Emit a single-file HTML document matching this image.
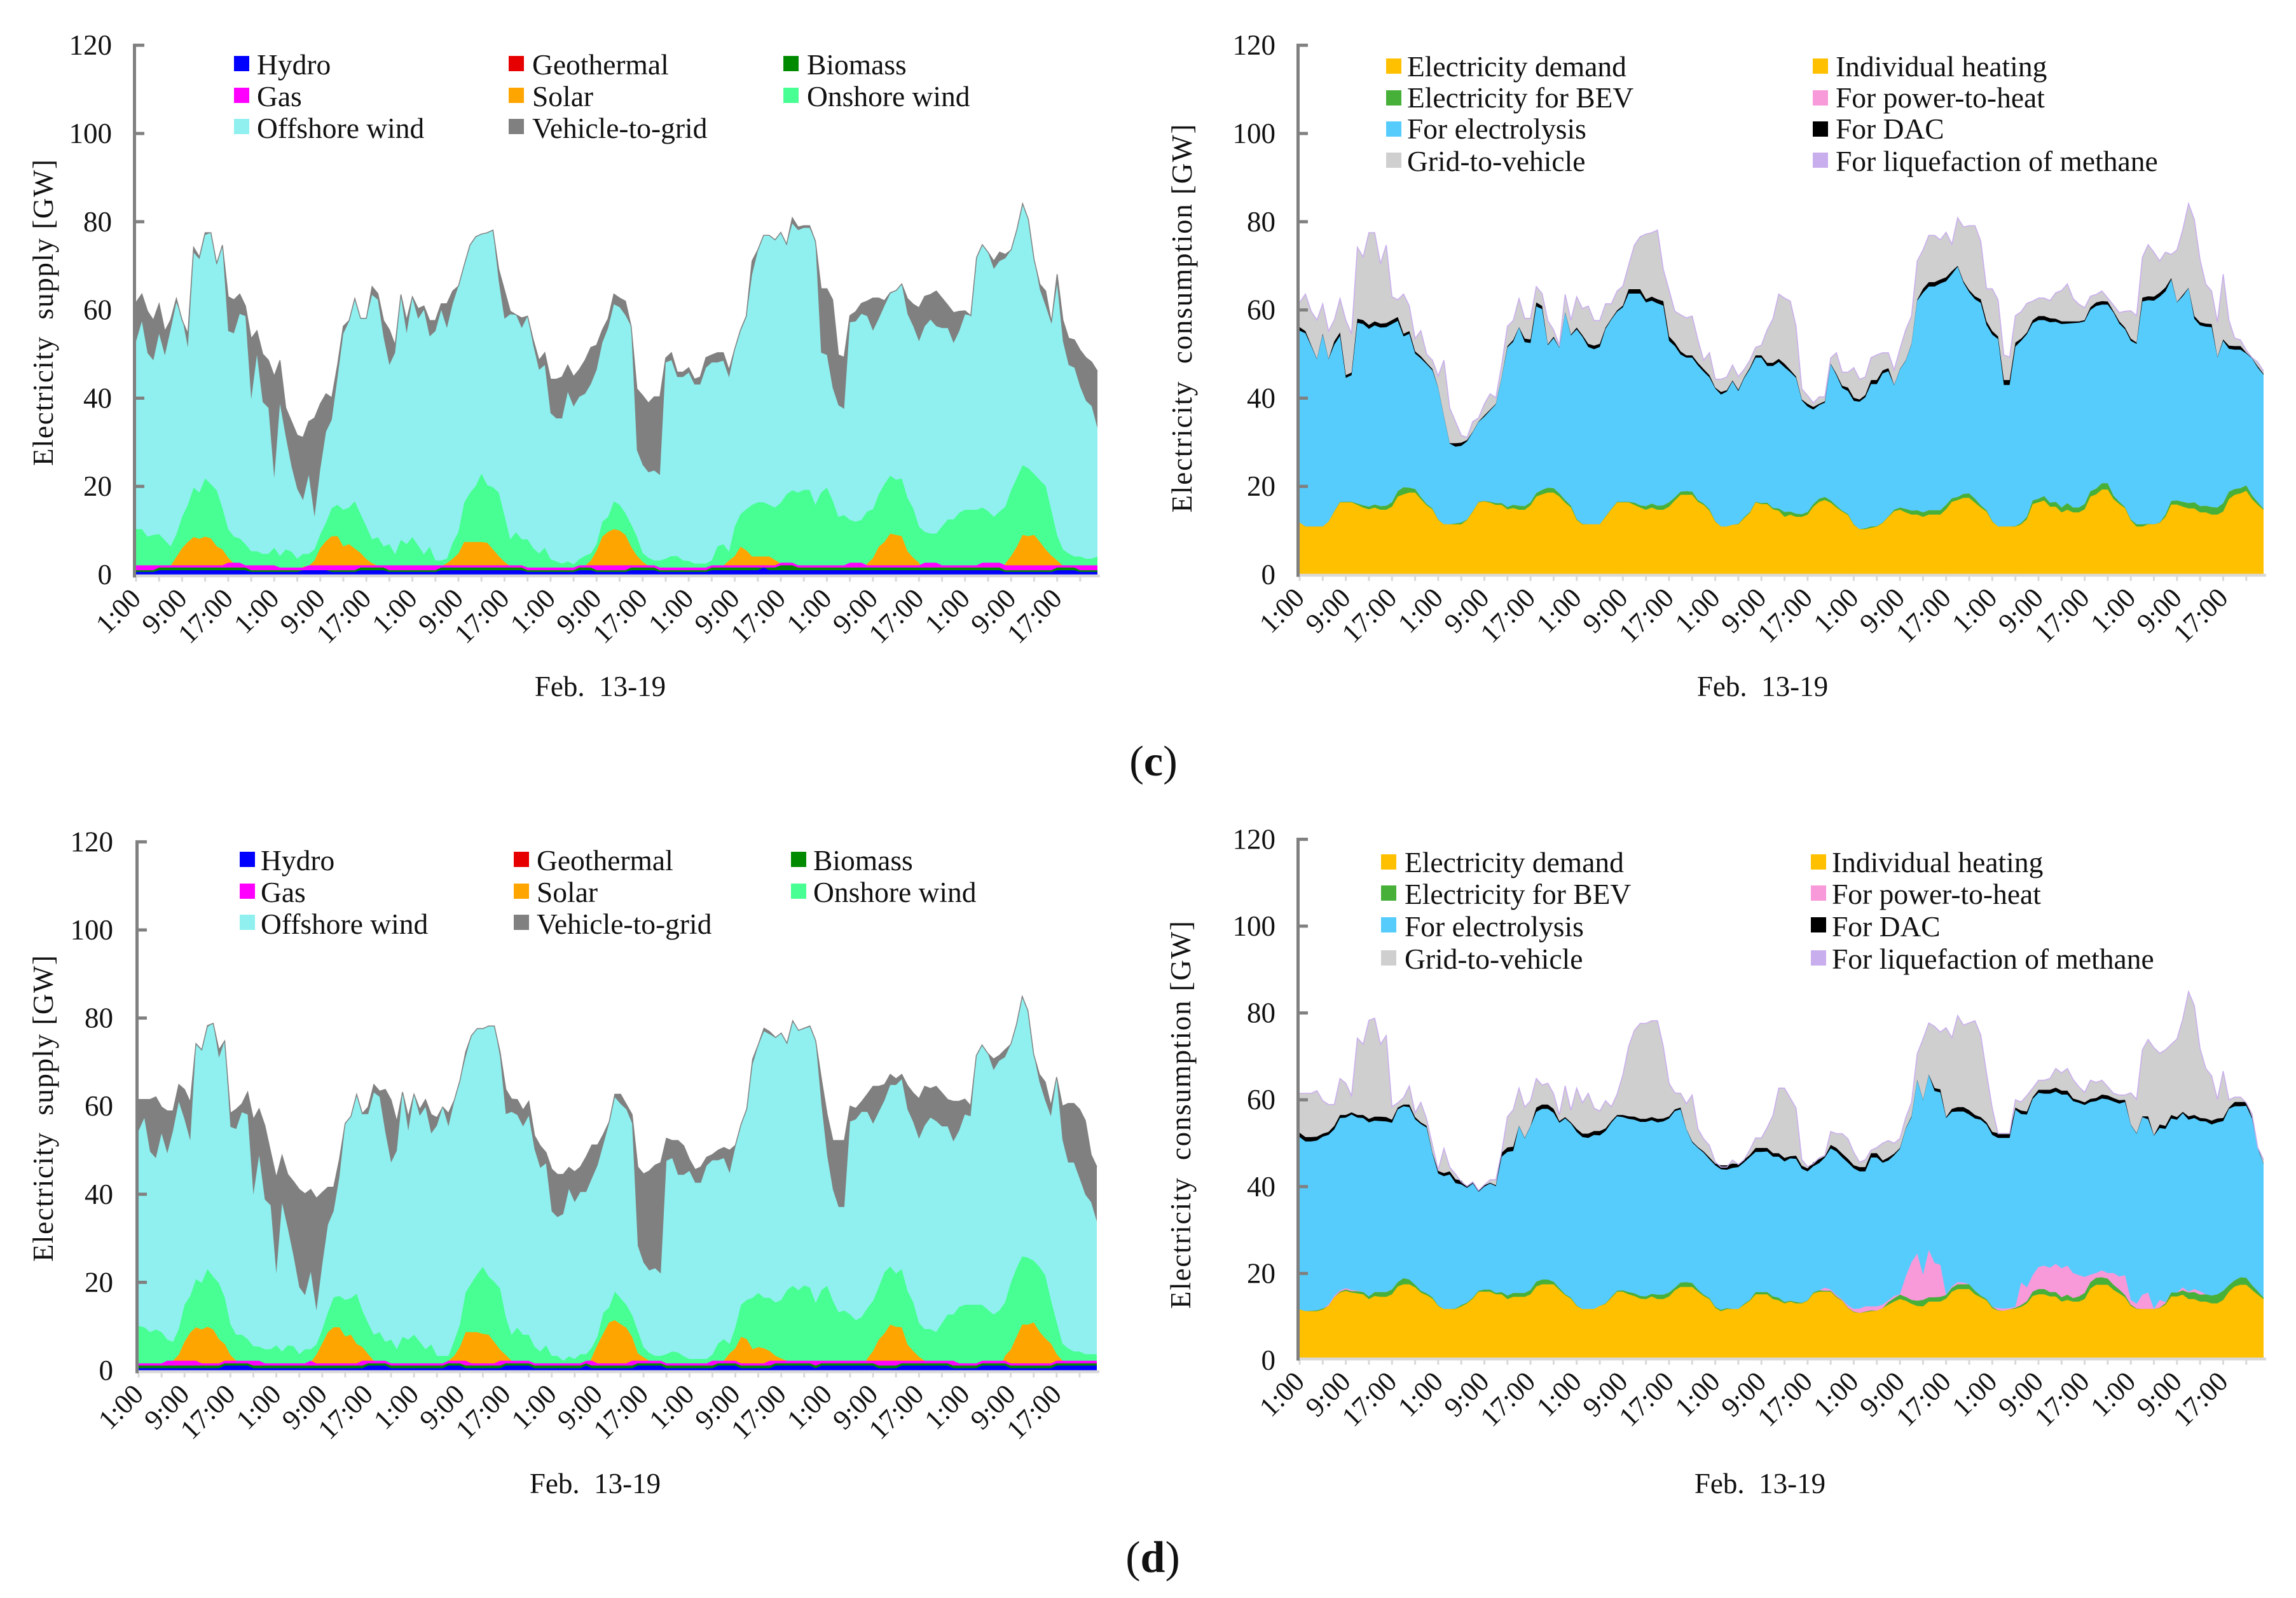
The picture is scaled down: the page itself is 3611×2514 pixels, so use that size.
<!DOCTYPE html>
<html lang="en">
<head>
<meta charset="utf-8">
<title>Electricity supply and consumption, Feb. 13-19</title>
<style>
html,body{margin:0;padding:0;background:#fff;}
svg{display:block;}
text{font-family:"Liberation Serif","Times New Roman",serif;fill:#111;}
.lg{font-size:45.5px;}
.tt{font-size:45px;}
</style>
</head>
<body>
<svg id="figure" xmlns="http://www.w3.org/2000/svg" width="3611" height="2514" viewBox="0 0 3611 2514">
<rect width="3611" height="2514" fill="#fff"/>
<g id="panel-cs"></g>
<g id="panel-cc"></g>
<g id="panel-ds"></g>
<g id="panel-dc"></g>

<text class="tt" transform="translate(83,492) rotate(-90)" text-anchor="middle" textLength="482">Electricity&#160;&#160;supply [GW]</text>
<text class="tt" transform="translate(1874,501) rotate(-90)" text-anchor="middle" textLength="611">Electricity&#160;&#160;consumption [GW]</text>
<text class="tt" transform="translate(83,1744) rotate(-90)" text-anchor="middle" textLength="482">Electricity&#160;&#160;supply [GW]</text>
<text class="tt" transform="translate(1872,1754) rotate(-90)" text-anchor="middle" textLength="610">Electricity&#160;&#160;consumption [GW]</text>

<text class="tt" x="944" y="1095" text-anchor="middle">Feb.&#160;&#160;13-19</text>
<text class="tt" x="2772" y="1095" text-anchor="middle">Feb.&#160;&#160;13-19</text>
<text class="tt" x="936" y="2349" text-anchor="middle">Feb.&#160;&#160;13-19</text>
<text class="tt" x="2768" y="2349" text-anchor="middle">Feb.&#160;&#160;13-19</text>

<text x="1814" y="1220" text-anchor="middle" font-size="68">(<tspan font-weight="bold">c</tspan>)</text>
<text x="1813" y="2473" text-anchor="middle" font-size="70">(<tspan font-weight="bold">d</tspan>)</text>

<g>
<g><rect x="368" y="88" width="24" height="24" fill="#0000ff"/><text class="lg" x="404" y="117">Hydro</text></g>
<g><rect x="800" y="88" width="24" height="24" fill="#e60000"/><text class="lg" x="837" y="117">Geothermal</text></g>
<g><rect x="1232" y="88" width="24" height="24" fill="#008a00"/><text class="lg" x="1269" y="117">Biomass</text></g>
<g><rect x="368" y="138" width="24" height="24" fill="#ff00ff"/><text class="lg" x="404" y="167">Gas</text></g>
<g><rect x="800" y="138" width="24" height="24" fill="#ffa500"/><text class="lg" x="837" y="167">Solar</text></g>
<g><rect x="1232" y="138" width="24" height="24" fill="#47ff93"/><text class="lg" x="1269" y="167">Onshore wind</text></g>
<g><rect x="368" y="187" width="24" height="24" fill="#8ff0ef"/><text class="lg" x="404" y="217">Offshore wind</text></g>
<g><rect x="800" y="187" width="24" height="24" fill="#808080"/><text class="lg" x="837" y="217">Vehicle-to-grid</text></g>
</g>

<g>
<g><rect x="377" y="1340" width="24" height="24" fill="#0000ff"/><text class="lg" x="410" y="1369">Hydro</text></g>
<g><rect x="808" y="1340" width="24" height="24" fill="#e60000"/><text class="lg" x="844" y="1369">Geothermal</text></g>
<g><rect x="1244" y="1340" width="24" height="24" fill="#008a00"/><text class="lg" x="1279" y="1369">Biomass</text></g>
<g><rect x="377" y="1390" width="24" height="24" fill="#ff00ff"/><text class="lg" x="410" y="1419">Gas</text></g>
<g><rect x="808" y="1390" width="24" height="24" fill="#ffa500"/><text class="lg" x="844" y="1419">Solar</text></g>
<g><rect x="1244" y="1390" width="24" height="24" fill="#47ff93"/><text class="lg" x="1279" y="1419">Onshore wind</text></g>
<g><rect x="377" y="1439" width="24" height="24" fill="#8ff0ef"/><text class="lg" x="410" y="1469">Offshore wind</text></g>
<g><rect x="808" y="1439" width="24" height="24" fill="#808080"/><text class="lg" x="844" y="1469">Vehicle-to-grid</text></g>
</g>

<g>
<g><rect x="2180" y="92" width="24" height="24" fill="#ffc000"/><text class="lg" x="2213" y="120">Electricity demand</text></g>
<g><rect x="2851" y="92" width="24" height="24" fill="#ffc000"/><text class="lg" x="2887" y="120">Individual heating</text></g>
<g><rect x="2180" y="142" width="24" height="24" fill="#47b039"/><text class="lg" x="2213" y="169">Electricity for BEV</text></g>
<g><rect x="2851" y="142" width="24" height="24" fill="#f899d9"/><text class="lg" x="2887" y="169">For power-to-heat</text></g>
<g><rect x="2180" y="191" width="24" height="24" fill="#56ccfd"/><text class="lg" x="2213" y="218">For electrolysis</text></g>
<g><rect x="2851" y="191" width="24" height="24" fill="#000"/><text class="lg" x="2887" y="218">For DAC</text></g>
<g><rect x="2180" y="240" width="24" height="24" fill="#d0cfcf"/><text class="lg" x="2213" y="269">Grid-to-vehicle</text></g>
<g><rect x="2851" y="240" width="24" height="24" fill="#c9aeee"/><text class="lg" x="2887" y="269">For liquefaction of methane</text></g>
</g>

<g>
<g><rect x="2172" y="1344" width="24" height="24" fill="#ffc000"/><text class="lg" x="2209" y="1372">Electricity demand</text></g>
<g><rect x="2848" y="1344" width="24" height="24" fill="#ffc000"/><text class="lg" x="2881" y="1372">Individual heating</text></g>
<g><rect x="2172" y="1393" width="24" height="24" fill="#47b039"/><text class="lg" x="2209" y="1422">Electricity for BEV</text></g>
<g><rect x="2848" y="1393" width="24" height="24" fill="#f899d9"/><text class="lg" x="2881" y="1422">For power-to-heat</text></g>
<g><rect x="2172" y="1443" width="24" height="24" fill="#56ccfd"/><text class="lg" x="2209" y="1473">For electrolysis</text></g>
<g><rect x="2848" y="1443" width="24" height="24" fill="#000"/><text class="lg" x="2881" y="1473">For DAC</text></g>
<g><rect x="2172" y="1495" width="24" height="24" fill="#d0cfcf"/><text class="lg" x="2209" y="1524">Grid-to-vehicle</text></g>
<g><rect x="2848" y="1495" width="24" height="24" fill="#c9aeee"/><text class="lg" x="2881" y="1524">For liquefaction of methane</text></g>
</g>
</svg>

<script>
const yTickValues = [0,20,40,60,80,100,120];
const xTickLabels = ['1:00','9:00','17:00','1:00','9:00','17:00','1:00','9:00','17:00','1:00','9:00','17:00','1:00','9:00','17:00','1:00','9:00','17:00','1:00','9:00','17:00'];

// Panel (c): stacked supply levels in GW, one value per hour over 168 hours
const cTotal = [61.7,63.6,59.7,57.7,61.4,55.2,57.7,62.6,57.7,54.6,74.2,72,77.5,77.5,70.5,74.7,63,62.3,63.6,60.9,53.5,55.3,50,48.6,
45,48.6,37.8,34.7,31.6,31.1,34.7,35.5,38.7,41,40.1,47.5,56.3,57.6,62.6,58.1,58.1,65.3,63.7,57.6,55.5,52,63.5,57.7,
63,60.3,60.9,57.6,57.6,61.4,61.4,64.3,65.4,70.2,74.7,76.6,77.2,77.5,78.1,69.2,64.5,59.7,58.9,58.2,58.6,53.2,48.6,50.3,
44.3,44.3,44.8,47.5,44.9,46.5,48.6,51.5,52,55.5,58,63.6,62.7,62,56.3,42.1,40.6,38.9,40.3,40.3,49.1,50.3,45.9,45.9,
46.9,44.3,44.8,49.2,49.8,50.3,50.3,46.4,51.2,55.5,58.6,71.1,73.6,76.9,76.9,75.9,77.6,74.9,80.9,78.8,79.1,79.1,75.6,64.8,
64.8,62.3,49.8,49.3,58.7,59.6,61.5,62,62.7,62.7,62.1,63.9,64.4,65.9,62.6,61.3,60.5,63.1,63.5,64.3,62.7,61.1,59.4,59.7,
59.8,58.7,71.9,74.8,73.1,71.1,73.1,72.6,73.6,78.2,84.1,80.5,71.4,65.8,64.3,57.2,68.1,57.7,53.6,53.2,50.9,49.2,48.2,46.1];
const cOffshoreTop = [52.9,57.4,50.2,48.6,54.6,49.7,55.5,61.7,58.3,51.5,73,71.5,77,77.5,70.2,74.5,55.2,54.7,59.1,58.6,39.7,49.8,39.1,37.8,
21.9,38.7,31.3,24.5,19.4,16.9,22.6,13.1,23.9,32.4,35.1,44.7,54.6,57.4,62.6,58.1,58.1,63.4,62.3,53.8,47.5,50.3,63.1,54.7,
62.7,58,60,54,55.2,60,55.9,61.4,65.4,70.2,74.7,76.6,77.2,77.5,78,66.5,58,59,58.9,55.9,58.6,52,46.4,47.5,
36.6,35.4,35.4,41.4,38.1,40.3,41,43.2,46.4,52.6,55.9,61.3,60.6,58.8,56.3,28.2,24.9,23.2,23.6,22.6,48.1,48.6,44.8,44.8,
45.8,43.1,43.1,46.9,48.1,48.1,48.5,44.7,50.9,55.2,58.3,68,73.3,76.9,76.9,75.8,77.6,74.9,79.6,78.1,78.6,78.6,75.6,50.3,
49.8,42.4,38.4,37.6,57.2,57.4,59.1,58.6,55.3,58,60.9,63.7,64.4,65.8,59.1,56.3,52.9,56.3,57.8,56.3,55.9,55.9,52.5,55.2,
59,58.7,71.9,74.7,73,69.3,71.1,71.7,73.6,78.2,84.1,80.5,71.4,64.6,60.9,56.9,65.9,52.9,47.5,46.9,42.6,39.4,38.2,33.2];
const cOnshoreTop = [10.3,10.3,8.6,9,9.2,7.8,6.4,9.1,13.1,15.8,19.7,18.6,21.8,20.5,19.1,15.1,10.3,8.6,8.2,6.9,5.3,5.3,4.7,4.7,
6.1,4.2,5.7,5.2,3.6,4.7,4.7,5.7,9.1,11.8,15.1,15.8,14.7,15.2,16.6,13.7,10.9,8,8.5,6.4,6.9,4.6,7.9,6.9,
8.5,6.6,4.6,6.3,3.2,3.2,3.6,7.2,9.7,16.3,18.5,20.1,22.9,20.3,19.8,18.6,13.4,8,9.6,8,8,6,4.8,6.1,
3.5,3,2.5,3,2.3,3.5,4.3,4.8,6.9,12,13.1,16.6,15.8,13.9,11.4,8.6,4.9,3.8,3.2,3.2,3.6,4.2,4.2,3.2,
3.1,2.5,2.5,2.5,3.2,6.4,6.9,5.2,10.9,13.7,14.8,15.8,16.4,16.4,15.8,15.2,16.3,18.2,19.1,18.6,19.2,19.2,15.8,18.6,
19.7,16.8,13.1,13.5,12.4,12,12.4,14.3,14.8,18.2,20.5,22.4,21.5,21.8,17.4,15,10.9,9.7,9.3,9.3,10.9,12.5,12.5,14,
14.7,14.7,14.7,15.2,14.4,13.1,14.3,15.4,19.1,21.9,24.8,24.1,22.8,21.4,20.1,14.5,8.9,5.7,4.8,4.1,4.1,3.6,3.6,4.1];
const cSolarTop = [0,0,0,0,0,0,2,4,6,7.4,8.5,8.1,8.6,8.2,6.4,5.7,3.8,2.5,0,0,0,0,0,0,
0,0,0,0,0,1.8,2,3.2,6,7.6,8.7,8.7,6.4,6.9,5.9,4.9,3.5,2.6,2,0,0,0,0,0,
0,0,0,0,0,1.9,2.6,3.6,4.8,7.4,7.4,7.4,7.4,7.2,5.7,4.2,2.9,1.9,0,0,0,0,0,0,
0,0,0,0,0,0,2,3.2,5.4,8.6,9.7,10.3,10,9,6.3,4.3,2.9,2,0,0,0,0,0,0,
0,0,0,0,0,0,2,3.2,4.2,6.3,5.5,4.1,4.1,4.1,4.1,3.3,2.5,0,0,0,0,0,0,0,
0,0,0,0,0,0,0,2.5,3.7,6.3,7.4,9.3,9,8.7,5.3,3.8,2.7,0,0,0,0,0,0,0,
0,0,0,0,0,0,0,2.5,4.2,6.3,9,8.7,9,7.4,5.7,4.3,3.2,2,0,0,0,0,0,0];
const cGasTop = [2.1,2.1,2.1,2.1,2.1,2.1,2.1,2.1,2.1,2.1,2.1,2.1,2.1,2.1,2.1,2.1,2.7,2.7,2.7,2.1,2.1,2.1,2.1,2.1,
2.1,1.6,1.6,1.6,1.6,1.6,2.1,2.1,2.1,2.1,2.1,2.1,2.1,2.1,2.1,2.1,2.1,2.1,2.1,2.1,2.1,2.1,2.1,2.1,
2.1,2.1,2.1,2.1,2.1,2.1,2.1,2.1,2.1,2.1,2.1,2.1,2.1,2.1,2.1,2.1,2.1,2.1,2.1,2.1,1.6,1.6,1.6,1.6,
1.6,1.6,1.6,1.6,1.6,2.1,2.1,2.1,2.1,2.1,2.1,2.1,2.1,2.1,2.1,2.1,2.1,2.1,2.1,1.6,1.6,1.6,1.6,1.6,
1.6,1.6,1.6,1.6,2.1,2.1,2.1,2.1,2.1,2.1,2.1,2.1,2.1,2.1,2.1,2.1,2.7,2.7,2.7,2.1,2.1,2.1,2.1,2.1,
2.1,2.1,2.1,2.1,2.7,2.7,2.7,2.1,2.1,2.1,2.1,2.1,2.1,2.1,2.1,2.1,2.1,2.7,2.7,2.7,2.1,2.1,2.1,2.1,
2.1,2.1,2.1,2.7,2.7,2.7,2.7,2.1,2.1,2.1,2.1,2.1,2.1,2.1,2.1,2.1,2.1,2.1,2.1,2.1,2.1,2.1,2.1,2.1];
const cBiomassTop = [1,1,1,1,1.6,1.6,1.6,1.6,1.6,1.6,1.6,1.6,1.6,1.6,1.6,1.6,1.6,1.6,1.6,1.6,1,1,1,1,
1,1,1,1,1,1,1,1,1,1,1,1,1,1,1,1.6,1.6,1.6,1.6,1.6,1,1,1,1,
1,1,1,1,1,1.6,1.6,1.6,1.6,1.6,1.6,1.6,1.6,1.6,1.6,1.6,1.6,1.6,1.6,1.6,1,1,1,1,
1,1,1,1,1,1.6,1.6,1.6,1,1,1,1,1,1,1.6,1.6,1.6,1.6,1.6,1,1,1,1,1,
1,1,1,1,1.6,1.6,1.6,1.6,1.6,1.6,1.6,1.6,1.6,1.6,1.6,1.6,2.1,2.1,2.1,1.6,1.6,1.6,1.6,1.6,
1.6,1.6,1.6,1.6,1.6,1.6,1.6,1.6,1.6,1.6,1.6,1.6,1.6,1.6,1.6,1.6,1.6,1.6,1.6,1.6,1.6,1.6,1.6,1.6,
1.6,1.6,1.6,1.6,1.6,1.6,1.6,1,1,1,1,1,1,1,1,1,1.6,1.6,1.6,1.6,1,1,1,1];
const cHydroTop = [.6,.6,.6,.6,1,1,1,1,1,1,1,1,1,1,1,1,1,1,1,1,.6,.6,.6,.6,
.6,.6,.6,.6,.6,1,1,1,1,1,.6,.6,.6,.6,.6,1,1,1,1,1,.6,.6,.6,.6,
.6,.6,.6,.6,.6,1,1,1,1,1,1,1,1,1,1,1,1,1,1,1,.6,.6,.6,.6,
.6,.6,.6,.6,.6,1,1,1,.6,.6,.6,.6,.6,.6,1,1,1,1,1,.6,.6,.6,.6,.6,
.6,.6,.6,.6,1,1,1,1,1,1,1,1,1,1.6,1,1,1,1,1,1,1,1,1,1,
1,1,1,1,1,1,1,1,1,1,1,1,1,1,1,1,1,1,1,1,1,1,1,1,
1,1,1,1,1,1,1,.6,.6,.6,.6,.6,.6,.6,.6,.6,1,1,1,1,.6,.6,.6,.6];

// Panel (c): consumption
const cDemand = [11.8,10.9,10.9,10.9,10.9,12,14.3,16.4,16.4,16.4,15.8,15.2,14.8,15.2,14.7,14.7,15.4,17.7,18.2,18.6,18.6,17.1,15.7,14.8,
12.4,11.4,11.4,11.4,11.4,12.4,14.3,16.4,16.6,16.3,15.8,15.8,14.8,15.1,14.7,14.7,15.7,17.7,18.2,18.6,18.6,17.7,16.3,15.2,
12.4,11.4,11.4,11.4,11.4,13.1,14.8,16.4,16.4,16.4,15.8,15.2,14.7,15.2,14.7,14.7,15.4,16.8,18.1,18.1,18.1,16.5,15.8,14.5,
12,10.9,10.9,11.3,11.4,12.8,14,16.4,16,16,14.8,14.5,13.1,13.6,13.1,13.1,13.6,15.4,16.5,16.9,16.3,15.2,14.3,13.5,
11.3,10.3,10.3,10.6,10.9,11.7,13.1,14.4,14.7,14.1,13.6,13.6,13.1,13.6,13.6,13.6,14.8,16.5,16.9,17.4,17.4,16.3,15.2,14.3,
12,10.9,10.9,10.9,10.9,11.4,12.6,16,16.4,16.8,15.4,15.4,14.1,14.7,14.1,14.1,14.8,17.7,18.2,19.3,19.3,17.1,16,15.1,
12.3,10.9,10.9,11.4,11.4,11.7,13.1,15.9,15.9,15.4,15,15,14.1,14.1,13.6,13.6,14.3,17.1,18.1,18.4,19,17.1,15.8,14.7];
const cBev = [0,0,0,0,0,0,.1,.1,.1,.1,.3,.5,.6,.7,.8,.9,1,1.2,1.6,1.1,.8,.5,.3,.2,
.1,0,0,.2,.4,.1,.1,.1,.1,.2,.4,.4,.5,.7,.9,.8,.7,.8,1,1.1,1,.7,.6,.4,
.2,.1,0,0,0,.1,.1,.1,.1,.1,.5,.5,.8,.9,.9,1,1,.7,.7,.8,.7,.4,.3,.3,
.1,0,0,0,.1,.2,.2,.1,.2,.3,.3,.5,1.1,.7,.7,.6,.6,.6,.7,.7,.5,.4,.2,.2,
.1,0,.2,.3,.1,.1,.1,.3,.5,.8,.9,1,1,1,1,1,1,.8,.7,.9,1,.9,.5,.3,
.1,0,0,0,.1,.3,.5,.8,.8,1,.9,1.1,1.1,1.5,1.1,1.1,1.2,1.2,1.3,1.4,1.4,.8,.5,.2,
.2,.5,.5,.1,0,.1,.5,.8,.9,1.1,1.2,1.4,1.4,1.5,1.7,1.6,1.9,1.7,1.3,1.2,1.2,.9,.6,.2];
const cP2h = [0,0,0,0,0,0,0,0,0,0,0,0,0,0,0,0,0,0,0,0,0,0,0,0,
0,0,0,0,0,0,0,0,0,0,0,0,0,0,0,0,0,0,0,0,0,0,0,0,
0,0,0,0,0,0,0,0,0,0,0,0,0,0,0,0,0,0,0,0,0,0,0,0,
0,0,0,0,0,0,0,0,0,0,0,0,0,0,0,0,0,0,0,0,0,0,0,0,
0,0,0,0,0,0,0,0,0,0,0,0,0,0,0,0,0,0,0,0,0,0,0,0,
0,0,0,0,0,0,0,0,0,0,0,0,0,0,0,0,0,0,0,0,0,0,0,0,
0,0,0,0,0,0,0,0,0,0,0,0,0,0,0,0,0,0,0,0,0,0,0,0];
const cDacTop = [56.1,55.2,52,48.9,54.6,48.9,52.9,54.9,45.2,45.8,58,57.7,56.6,57.4,56.9,57,57.7,58.4,54.6,55.2,50.6,49.5,48,46.6,
42.4,35.9,29.8,29.8,29.9,30.5,32.4,34.7,36.1,37.4,38.7,44.7,51.8,53.2,56.1,53.5,53.3,61.7,60.9,52.2,53.9,51.5,59.5,54.4,
56,54.3,52.3,51.9,52.3,56,58,59.9,61,64.7,64.7,64.7,62.4,63,62.4,62,54,52.6,50.6,49.7,49.7,48,46.6,45.2,
42.4,41.4,41.8,44,41.9,44.7,46.9,49.7,49.7,48,48,48.9,47.8,46.4,44.9,39.7,38.7,38,38.7,39.3,47.8,45.5,42.8,42.4,
40.1,39.7,40.7,44.1,44.1,46.3,46.8,43,46.6,48.6,52.3,62.3,64.8,66.3,66.3,66.9,67.4,68.8,70,66.5,64.5,63.1,62.4,57.4,
55.2,54,44.1,44.1,52.6,53.5,54.9,57.7,58.6,58.6,58.1,58,57.4,57.4,57.4,57.4,57.7,60.6,61.7,62,61.9,59.7,57.4,56,
53.5,52.6,62.8,63.1,63,63.9,65.1,67.2,61.8,63.4,65,58.6,57.2,56.9,56.8,49.3,53.3,51.9,51.8,51.8,50.3,49.1,47.2,45.5];
const cDac = [.8,.5,.2,.1,.2,.1,.8,.8,.6,.6,.9,.9,.9,.9,.9,.9,.9,.9,.6,.6,.5,.5,.3,.3,
.1,.1,.1,.8,.7,.3,.1,.1,.3,.2,.1,.1,.3,.4,.1,.8,.8,.9,.7,.2,.3,.1,.1,.2,
.4,.4,.7,.8,.7,.3,.2,.3,.4,1,1,1,.7,.9,.9,1,1,.8,.7,.5,.5,.6,.6,.5,
.2,.6,.3,.2,.3,.2,.3,.5,.5,.7,.7,.7,.8,.5,.3,.2,.6,.6,.3,.3,.1,.3,.5,.8,
.7,.5,.5,.9,.9,.7,.7,.1,.1,.1,.1,.2,.9,1,1,.9,.9,.7,.2,.3,.5,.7,.8,.8,
.8,.6,1.1,1.1,.9,.5,.4,.7,.9,.9,.9,.7,.6,.5,.4,.3,.3,.6,.8,.8,.7,.3,.5,.4,
.5,.3,.9,.9,.9,.9,.9,.3,.1,.3,.1,.6,.7,.7,.7,.1,.3,.7,.8,.8,.2,.1,.3,.2];

// Panel (d): supply
const dTotal = [61.5,61.5,61.5,62.1,59.8,58.9,58.9,64.9,63.8,60.9,74.2,72.8,78.3,78.8,72.8,74.8,58.4,59.3,60.5,63.2,57,59.4,55.6,49.6,
43.8,48.8,44.5,42.9,41.1,40.1,41.1,39.1,40.4,41.6,41.6,47.9,56.1,57.7,62.7,58.3,59.8,64.9,63.4,63.8,61.4,56.5,63.2,57.6,
62.7,59.3,61.5,58.1,57.4,59.8,58.4,61.3,65.8,72.3,76,77.6,77.6,78.2,78.2,72.3,63.8,61.6,61.5,59.1,61.1,53.3,51,49.5,
45.7,44.5,44.5,46.1,45.1,46.2,48.5,51.2,51.2,53.6,56.4,62.7,62.7,60.4,58.1,46.2,44.6,45.3,46.6,47.2,52.7,52.2,52.2,51,
47.9,45.6,46.2,48.4,49,50,50.6,50,51.1,55.9,59.4,70.6,74,77.7,76.9,75.6,76.6,74.3,79.4,77.2,77.7,78.2,74.9,66.1,
58.1,52.2,52.2,52.2,60,59.5,61,62.7,64.5,64.5,64.9,67.2,66.2,67.2,64.7,63,61.7,64.5,64,64.5,63,61.5,61.1,61.1,
61.6,60.1,71.5,73.9,72,70.7,71.5,72.8,74,78.6,84.9,81.7,71.8,67.2,65.5,60.1,66.6,60,60.6,60.6,59.3,56.7,49,46.2];
const dOffshoreTop = [54.4,57.3,49.7,48.2,53.8,49.3,54.4,61,57,52.2,74,72.6,78,78.8,71,74.8,55.3,54.8,58.6,58.1,39.9,48.8,38.8,37.5,
22,38,32.3,26,18.9,17.1,22.4,13.6,24,33.1,36.2,43.9,55.9,57.7,62.7,58.2,58.2,63.1,62.1,54.1,47.2,49.9,63.1,54.4,
62.6,57.8,59.8,53.8,55.6,59.8,55.4,61,65.8,71.2,76,77.6,77.6,78.2,78.2,71.2,58.2,58.7,58,55.4,57.8,50.2,46,47,
36.1,34.8,35.5,41.2,38.2,40.5,40.5,43.6,46.6,51.3,56.1,62,60.5,59.3,56.1,28.3,24.5,22.7,23.2,22,47.6,48.2,44.4,44.4,
45.3,42.6,42.6,46.5,47.7,47.7,48.2,44.8,50.7,55.9,59.3,69.5,73.8,77,76.3,75.5,76.6,74.3,79.1,77.2,77.6,78,74.7,60.4,
48.8,41.1,37.1,37.1,56.5,57,58.7,58.7,56,58.7,61.3,64.8,64.8,66.1,59.3,56.4,52.6,55.6,57.4,56.6,55.4,55.4,52,54.4,
58.1,57.7,71.5,73.8,72,68.2,70.3,71.1,74,78.6,84.9,81.7,71.8,65.5,61.3,57.7,66.4,52.4,47.2,47.2,43.6,39.9,38.2,33.8];
const dOnshoreTop = [10.1,9.8,8.7,9.3,8.7,7,6.5,9.4,14.9,16.9,20.7,19.9,23,21.3,19.8,16.6,10.5,8.1,8.1,7.1,5.5,5.4,4.8,4.8,
5.7,4.3,5.7,5.5,3.7,4.8,4.8,5.9,9.3,13.2,16.6,16.9,16,16.4,17.4,13.6,10.7,8.1,8.7,6.5,7,4.8,7.6,7,
8.1,6.5,4.8,5.9,3.3,3.3,3.3,6.7,10.4,17.7,19.8,21.8,23.5,21.3,20.1,18.6,12.1,8.1,9.7,8.1,8.1,5.4,4.3,5.7,
3.3,3.3,2.2,3.2,2.6,3.7,3.7,5.2,7.8,13.1,14.3,17.9,16.4,14.9,12.6,9,5.3,4,3.3,3.3,3.7,4.3,4.1,3.2,
2.6,2.6,2.6,2.6,3.6,6.1,7.1,6,9.8,14.9,16,16.5,17.6,16.5,16.5,15.4,16,18.2,19.2,18.2,19.3,18.8,15.3,18.2,
19.2,15.8,13.2,13.6,12.7,11.4,12.1,14.1,15.8,18.9,22.3,23.6,22,23,18.1,15.5,10.8,9.4,9.4,8.7,10.7,12.7,12.7,14.4,
14.9,14.9,14.9,14.9,13.8,12.7,13.6,15.4,19.8,23.2,25.9,25.6,24.9,23.5,21.6,16,11,6.1,5,4.3,4.3,3.7,3.7,3.7];
const dSolarTop = [0,0,0,0,0,0,2.2,3.6,6.5,8.6,9.8,9.3,9.9,9.3,7.1,6,3.5,2.2,0,0,0,0,0,0,
0,0,0,0,0,0,1.8,3.6,6.1,8.7,9.8,9.8,7.7,8.1,6,5.3,3.7,2.2,0,0,0,0,0,0,
0,0,0,0,0,0,2.2,3.3,5.3,8.7,8.7,8.7,8.3,8.1,6.4,4.7,3.5,2.2,0,0,0,0,0,0,
0,0,0,0,0,0,0,3,5.9,8.4,10.9,11.4,10.5,9.7,7.6,3.9,3,2.2,0,0,0,0,0,0,
0,0,0,0,0,0,2.2,3.9,5,7.6,7.1,4.8,5.3,5,4.4,3.3,2.7,2.2,0,0,0,0,0,0,
0,0,0,0,0,0,0,2.7,4.4,7,8.4,10.4,9.9,9.8,5.9,4.4,3.1,2.2,0,0,0,0,0,0,
0,0,0,0,0,0,0,3.3,4.7,7.6,10.4,10.4,10.9,8.8,7.3,6.1,3.7,2.2,0,0,0,0,0,0];
const dGasTop = [1.6,1.6,1.6,1.6,1.6,2.2,2.2,2.2,2.2,2.2,2.2,1.6,1.6,1.6,1.6,2.2,2.2,2.2,2.2,2.2,2.2,2.2,1.6,1.6,
1.6,1.6,1.6,1.6,1.6,1.6,2.2,1.6,1.6,1.6,1.6,1.6,1.6,1.6,1.6,2.2,2.2,2.2,2.2,2.2,1.6,1.6,1.6,1.6,
1.6,1.6,1.6,1.6,1.6,1.6,2.2,2.2,2.2,2.2,1.6,1.6,1.6,1.6,1.6,2.2,2.2,2.2,2.2,2.2,2.2,1.6,1.6,1.6,
1.6,1.6,1.6,1.6,1.6,1.6,2.2,2.2,1.6,1.6,1.6,1.6,1.6,1.6,2.2,2.2,2.2,2.2,2.2,2.2,1.6,1.6,1.6,1.6,
1.6,1.6,1.6,1.6,2.2,2.2,2.2,2.2,2.2,1.6,1.6,1.6,1.6,1.6,2.2,2.2,2.2,2.2,2.2,2.2,2.2,2.2,2.2,2.2,
2.2,2.2,2.2,2.2,2.2,2.2,2.2,2.2,2.2,2.2,2.2,2.2,2.2,2.2,2.2,2.2,2.2,2.2,2.2,2.2,2.2,2.2,2.2,1.6,
1.6,1.6,1.6,2.2,2.2,2.2,2.2,2.2,1.6,1.6,1.6,1.6,1.6,1.6,1.6,1.6,2.2,2.2,2.2,2.2,2.2,2.2,2.2,2.2];
const dBiomassTop = [1.1,1.1,1.1,1.1,1.1,1.1,1.1,1.1,1.1,1.1,1.1,1.1,1.1,1.1,1.1,1.6,1.6,1.6,1.6,1.6,1.1,1.1,1.1,1.1,
1.1,1.1,1.1,1.1,1.1,1.1,1.1,1.1,1.1,1.1,1.1,1.1,1.1,1.1,1.1,1.1,1.6,1.6,1.6,1.6,1.1,1.1,1.1,1.1,
1.1,1.1,1.1,1.1,1.1,1.1,1.6,1.6,1.6,1.1,1.1,1.1,1.1,1.1,1.1,1.1,1.6,1.6,1.6,1.6,1.6,1.1,1.1,1.1,
1.1,1.1,1.1,1.1,1.1,1.1,1.6,1.1,1.1,1.1,1.1,1.1,1.1,1.1,1.1,1.6,1.6,1.6,1.6,1.6,1.1,1.1,1.1,1.1,
1.1,1.1,1.1,1.1,1.1,1.6,1.6,1.6,1.6,1.1,1.1,1.1,1.1,1.1,1.1,1.6,1.6,1.6,1.6,1.6,1.6,1.6,1.1,1.6,
1.6,1.6,1.6,1.6,1.6,1.6,1.6,1.6,1.6,1.1,1.1,1.1,1.1,1.6,1.6,1.6,1.6,1.6,1.6,1.6,1.6,1.6,1.1,1.1,
1.1,1.1,1.1,1.6,1.6,1.6,1.6,1.6,1.1,1.1,1.1,1.1,1.1,1.1,1.1,1.1,1.6,1.6,1.6,1.6,1.6,1.6,1.6,1.6];
const dHydroTop = [.5,.5,.5,.5,.5,.5,.5,.5,.5,.5,.5,.5,.5,.5,.5,1.1,1.1,1.1,1.1,1.1,.5,.5,.5,.5,
.5,.5,.5,.5,.5,.5,.5,.5,.5,.5,.5,.5,.5,.5,.5,.5,1.1,1.1,1.1,1.1,.5,.5,.5,.5,
.5,.5,.5,.5,.5,.5,1.1,1.1,1.1,.5,.5,.5,.5,.5,.5,.5,1.1,1.1,1.1,1.1,1.1,.5,.5,.5,
.5,.5,.5,.5,.5,.5,1.1,.5,.5,.5,.5,.5,.5,.5,.5,1.1,1.1,1.1,1.1,1.1,.5,.5,.5,.5,
.5,.5,.5,.5,.5,1.1,1.1,1.1,1.1,.5,.5,.5,.5,.5,.5,1.1,1.1,1.1,1.1,1.1,1.1,1.1,.5,1.1,
1.1,1.1,1.1,1.1,1.1,1.1,1.1,1.1,1.1,.5,.5,.5,.5,1.1,1.1,1.1,1.1,1.1,1.1,1.1,1.1,1.1,.5,.5,
.5,.5,.5,1.1,1.1,1.1,1.1,1.1,.5,.5,.5,.5,.5,.5,.5,.5,1.1,1.1,1.1,1.1,1.1,1.1,1.1,1.1];

// Panel (d): consumption
const dDemand = [11.7,11.3,11.3,11.3,11.7,12.5,14.5,15.6,16,15.6,15.4,15.2,14.1,14.8,14.6,14.6,15.2,17,17.5,17.5,16.8,15.6,15,14.2,
12.5,11.8,11.8,11.8,12.4,13.1,14.2,15.8,15.8,15.8,15.2,15.2,14.1,14.6,14.6,14.6,15.2,17,17.5,17.5,17.5,16.2,15,14.2,
12.5,11.8,11.8,11.8,12.5,13,14.4,15.8,15.8,15.2,14.8,14.2,14.1,14.7,14.1,14.1,14.7,16.1,16.9,16.9,16.9,15.8,14.8,14.1,
12.1,11.3,11.8,11.8,11.8,12.8,13.7,15.2,15.2,15.2,14.1,13.8,13.1,13.5,13.1,13.1,13.7,15.4,15.8,15.8,15.8,14.5,13.7,12,
11.1,10.9,11.1,11.3,11.4,12,12.8,13.5,14.1,13.7,13,12.5,12.4,13.5,13.5,13.5,14.2,15.8,16.4,16.4,16.4,15.2,14.5,13.8,
12,11.4,11.4,11.7,11.9,12.3,13.1,14.8,15.2,15.2,14.7,14.7,13.5,13.9,13.5,13.5,14.1,16.5,17.4,17.4,17.4,16.2,15.4,14.5,
12.5,11.8,11.8,11.8,11.8,12,12.8,14.7,14.7,15.1,14.1,14.1,13.5,13.5,13.1,13.1,13.9,15.8,17,17.4,17.4,16.2,15.1,14.1];
const dBev = [0,0,.1,.2,.2,0,0,.2,.3,.3,.5,.5,.6,.9,1.1,1.1,1.1,1,1.4,1.1,.6,.4,.4,.3,
.1,0,0,.1,.3,.2,.2,.2,.5,.5,.3,.5,.8,.9,.9,.9,1,1.1,1.1,1.1,.6,.4,.2,.2,
.1,0,0,0,0,.1,.2,.2,.3,.5,.6,.6,.6,.6,1,1,.9,.6,1,1.1,.9,.5,.3,.2,
.2,.3,.2,0,0,.2,.2,.5,.5,.5,.6,.6,.3,.2,.3,.1,.1,.2,.3,.2,.2,.2,.1,.1,
.1,0,.1,.2,0,0,.6,.8,1,.9,.9,1.2,1.5,1,1,1.1,.8,.9,1.1,1.1,1.1,.8,.4,.3,
.3,.1,0,0,.2,.4,.5,1,1.2,1.2,1,1,1,1.2,.8,1.2,1.4,1.5,1.6,1.7,1.4,1.2,.9,.5,
.3,.1,0,0,0,.1,.3,.9,.9,1,1.5,1.6,1.6,1.7,1.8,2.1,2.1,1.5,1.4,1.7,1.6,1.1,.8,.3];
const dP2h = [0,0,0,0,0,.3,.3,.3,.3,.3,.1,0,0,0,0,0,0,0,0,0,0,0,0,0,
0,0,0,0,0,0,0,0,0,0,0,0,0,0,0,0,0,0,0,0,0,0,0,0,
0,0,0,0,0,0,0,0,0,0,0,0,0,0,0,0,0,0,0,0,0,0,0,0,
0,0,0,0,0,0,0,0,0,0,0,0,0,0,0,0,0,0,0,.7,.3,.3,.2,.5,
.6,1,1.2,.9,1,.8,.4,.5,.1,4.7,8.7,10.9,5.8,10.9,7.9,7.4,0,.3,.5,.4,0,0,0,0,
0,.5,.5,.3,.2,5.2,3.2,3.8,5.1,5.4,5.6,6.5,6.7,6.7,5.8,4.9,3.7,1.7,1.1,1.6,1.3,2.7,3,4.6,
1.1,1.1,3.3,3.8,0,1.8,.3,0,0,.7,.2,.7,.8,0,0,0,0,0,0,0,0,0,0,0];
const dDacTop = [52.4,51.4,51.4,51.5,52.2,52.6,54,56.5,56.5,57.1,56.5,56.5,55.6,56.1,56.1,56,55.4,58.2,58.9,58.9,56,54.8,54,47.8,
43.6,43.1,43.5,41.7,41.4,40,40.9,39.2,40.3,40.9,40.3,47.8,49,49.2,54,51.2,54,58.2,58.9,58.9,57.9,55.1,56,54.8,
53.3,52.2,52.2,52.8,52.8,53.4,55.1,56.5,56.5,56.2,56.1,55.6,55.6,56,55.6,55.7,56.2,57.8,58.2,53.3,50.4,49.1,48.1,46.7,
45.3,44.9,44.9,45.3,45.2,46.2,47.3,48.9,48.9,48.9,47.7,47.7,46.6,47,47.1,44.8,44.2,45.6,46.3,47,49.6,48.9,47.6,46.4,
44.9,44.5,44.5,47.7,47.7,46,46.7,47.6,48.9,53.4,56.2,64.6,60,65.8,62.7,62.4,56,57.9,58.3,58.3,57.6,56.5,56,54.8,
52.6,52.3,52.3,52.3,58.2,57.5,57.3,60.6,62.3,62.3,62.3,62.8,62.1,62.1,60.3,59.9,59.4,60.2,60.4,61.2,61,60.4,59.9,60,
54.3,52.3,56.2,56.2,51.8,54.3,54,56.5,56,57.2,56.2,56.5,55.8,55.7,55.2,55.7,55.8,58.2,59.5,59.5,59.5,56,49,45.3];
const dDac = [1,1,1,.9,.7,.7,.8,.7,.6,.5,.6,.7,.8,.9,1,1,.7,.4,.4,.6,.5,.4,.4,.2,
.6,.7,.7,.9,.9,.3,.2,.4,.3,.2,.2,.9,1,1,.1,.1,.1,1,1,1,.9,.4,.3,.3,
.7,.8,1,.9,1,.6,.4,.3,.5,.6,.7,.7,.7,.7,.8,.7,.5,.4,.4,.1,.2,.2,.3,.4,
.4,.9,1,1,.7,.6,.5,.9,.9,.8,.8,.8,.8,.5,.7,.7,.7,.9,.9,.3,.8,.8,.9,.9,
.7,1,1,1,1,.5,.7,.4,.2,.1,.2,.1,.1,.1,.7,.7,.2,.7,1,1,1,.8,.6,.5,
.7,1.1,1.1,1.1,.5,.8,.7,.4,.7,.9,.9,.9,.9,.9,.6,.6,.6,.7,.7,.9,.9,.8,.8,.5,
.1,.1,.2,.7,.1,.8,.7,.8,.6,.3,.8,.7,.7,.7,.9,.9,.7,.3,1,1,.9,.3,.2,.1];

const SVG_NS = 'http://www.w3.org/2000/svg';

function makeAxes(x0, x1, y0, k) {
  return {
    x: function (h) { return x0 + (x1 - x0) * h / 167; },
    y: function (v) { return y0 - k * v; }
  };
}

function drawArea(parent, axes, levels, color, name) {
  const pts = [];
  pts.push(axes.x(0).toFixed(1) + ',' + axes.y(0).toFixed(1));
  levels.forEach(function (v, h) {
    pts.push(axes.x(h).toFixed(1) + ',' + axes.y(v).toFixed(1));
  });
  pts.push(axes.x(levels.length - 1).toFixed(1) + ',' + axes.y(0).toFixed(1));
  const el = document.createElementNS(SVG_NS, 'polygon');
  el.setAttribute('points', pts.join(' '));
  el.setAttribute('fill', color);
  
  
  parent.appendChild(el);
}

function drawTopLine(parent, axes, levels, color, width, name) {
  const pts = levels.map(function (v, h) {
    return axes.x(h).toFixed(1) + ',' + axes.y(v).toFixed(1);
  });
  const el = document.createElementNS(SVG_NS, 'polyline');
  el.setAttribute('points', pts.join(' '));
  el.setAttribute('fill', 'none');
  el.setAttribute('stroke', color);
  el.setAttribute('stroke-width', width);
  
  
  parent.appendChild(el);
}

function drawRect(parent, x, y, w, h, color, name) {
  const el = document.createElementNS(SVG_NS, 'rect');
  el.setAttribute('x', x);
  el.setAttribute('y', y);
  el.setAttribute('width', w);
  el.setAttribute('height', h);
  el.setAttribute('fill', color);
  
  
  parent.appendChild(el);
}

function drawFrame(parent, axes, bandY, labelRight) {
  const xLeft = axes.x(0);
  const xRight = axes.x(167);
  drawRect(parent, xLeft, bandY - 2.3, xRight - xLeft + 4, 4.6, '#d9d9d9', 'x-axis-line');
  for (let h = 0; h <= 164; h += 4) {
    drawRect(parent, axes.x(h) - 1.5, bandY, 3, 9, '#d9d9d9', 'x-tick');
  }
  xTickLabels.forEach(function (label, i) {
    const x = axes.x(i * 8) + 10;
    const y = bandY + 38;
    const t = document.createElementNS(SVG_NS, 'text');
    t.textContent = label;
    t.setAttribute('transform', 'translate(' + x.toFixed(1) + ',' + y.toFixed(1) + ') rotate(-45)');
    t.setAttribute('text-anchor', 'end');
    t.setAttribute('font-size', '44');
    
    
    parent.appendChild(t);
  });
  drawRect(parent, xLeft - 5, axes.y(120) - 2.5, 5, bandY - axes.y(120) + 5, '#808080', 'y-axis-line');
  yTickValues.forEach(function (v) {
    if (v > 0) {
      drawRect(parent, xLeft, axes.y(v) - 2.5, 13, 5, '#808080', 'y-tick');
    }
    const t = document.createElementNS(SVG_NS, 'text');
    t.textContent = String(v);
    t.setAttribute('x', labelRight);
    t.setAttribute('y', (axes.y(v) + 15).toFixed(1));
    t.setAttribute('text-anchor', 'end');
    t.setAttribute('font-size', '45');
    
    
    parent.appendChild(t);
  });
}

function drawSupply(id, axes, bandY, labelRight, total, offshore, onshore, solar, gas, biomass, hydro) {
  const g = document.getElementById(id);
  drawArea(g, axes, total, '#808080', 'vehicle-to-grid-area');
  drawArea(g, axes, offshore, '#8ff0ef', 'offshore-wind-area');
  drawArea(g, axes, onshore, '#47ff93', 'onshore-wind-area');
  drawArea(g, axes, solar, '#ffa500', 'solar-area');
  drawArea(g, axes, gas, '#ff00ff', 'gas-area');
  drawArea(g, axes, biomass, '#008a00', 'biomass-area');
  drawArea(g, axes, hydro, '#0000ff', 'hydro-area');
  drawTopLine(g, axes, total, '#808080', 1.5, 'supply-total-line');
  drawFrame(g, axes, bandY, labelRight);
}

function drawConsumption(id, axes, bandY, labelRight, total, demand, bev, p2h, dacTop, dac) {
  const g = document.getElementById(id);
  const bevLevel = demand.map(function (v, i) { return v + bev[i]; });
  const p2hLevel = bevLevel.map(function (v, i) { return v + p2h[i]; });
  const electrolysisLevel = dacTop.map(function (v, i) { return v - dac[i]; });
  drawArea(g, axes, total, '#d0cfcf', 'grid-to-vehicle-area');
  drawArea(g, axes, dacTop, '#000000', 'dac-area');
  drawArea(g, axes, electrolysisLevel, '#56ccfd', 'electrolysis-area');
  drawArea(g, axes, p2hLevel, '#f899d9', 'power-to-heat-area');
  drawArea(g, axes, bevLevel, '#47b039', 'bev-area');
  drawArea(g, axes, demand, '#ffc000', 'electricity-demand-area');
  drawTopLine(g, axes, total, '#c9aeee', 1.6, 'liquefaction-of-methane-line');
  drawFrame(g, axes, bandY, labelRight);
}

drawSupply('panel-cs', makeAxes(214, 1726, 904, 6.94), 906, 176, cTotal, cOffshoreTop, cOnshoreTop, cSolarTop, cGasTop, cBiomassTop, cHydroTop);
drawConsumption('panel-cc', makeAxes(2044, 3560, 904, 6.94), 905, 2006, cTotal, cDemand, cBev, cP2h, cDacTop, cDac);
drawSupply('panel-ds', makeAxes(218, 1725, 2156, 6.93), 2158, 178, dTotal, dOffshoreTop, dOnshoreTop, dSolarTop, dGasTop, dBiomassTop, dHydroTop);
drawConsumption('panel-dc', makeAxes(2044, 3560, 2140, 6.83), 2138, 2006, dTotal, dDemand, dBev, dP2h, dDacTop, dDac);
</script>
</body>
</html>
